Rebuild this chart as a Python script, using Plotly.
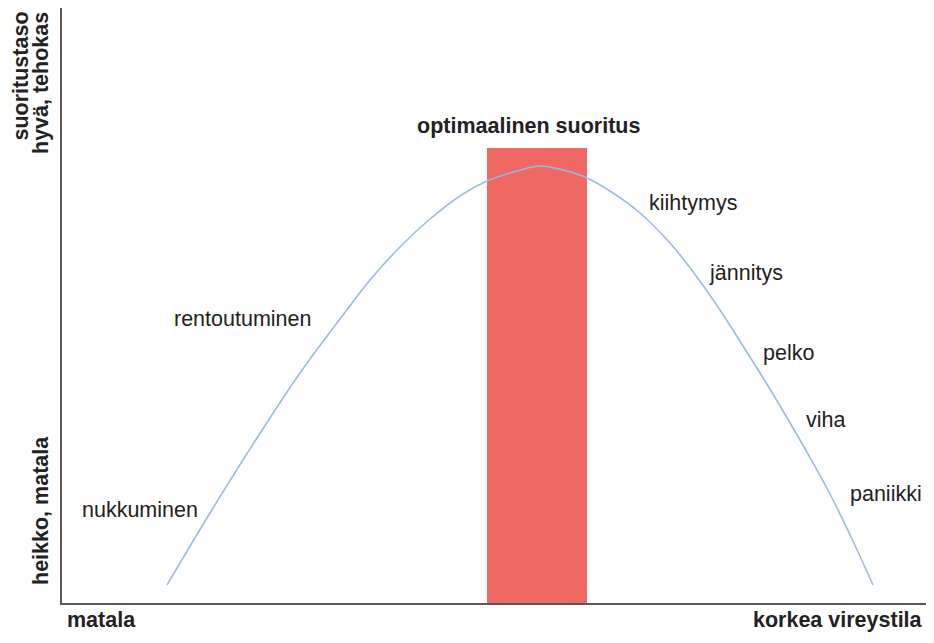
import plotly.graph_objects as go

# Curve (arousal vs. performance)
curve_x = [105, 148, 195, 238, 281, 308, 335, 368, 401, 425, 455, 478,
           501, 525, 551, 578, 608, 635, 658, 681, 703, 724, 746, 768, 790, 811]
curve_y = [18, 90, 165, 230, 288, 323, 353, 384, 409, 422, 432, 437,
           433, 425, 410, 390, 360, 326, 293, 257, 222, 187, 149, 109, 64, 18]

# Optimal performance band
band_center = [475]
band_width = [100]
band_height = [455]

# Labels along the curve
label_text = ["kiihtymys", "jännitys", "pelko", "viha", "paniikki", "rentoutuminen", "nukkuminen"]
label_x = [631, 684, 726, 763, 824, 180, 78]
label_y = [400, 330, 250, 183, 109, 284, 93]

FONT = "Liberation Sans, Arial, sans-serif"
TXT = "#222222"
FS = 21.5

XR = 864.0   # x data range (1 unit per pixel)
YR = 595.0   # y data range


def px(x):
    return x / XR


def py(y):
    return y / YR


fig = go.Figure()
fig.add_trace(go.Bar(x=band_center, y=band_height, width=band_width,
                     marker=dict(color="#EF6862", line=dict(width=0)),
                     hoverinfo="skip"))
fig.add_trace(go.Scatter(x=curve_x, y=curve_y, mode="lines",
                         line=dict(color="#9DB9E4", width=1.6, shape="spline", smoothing=1.0),
                         hoverinfo="skip"))

for t, x, y in zip(label_text, label_x, label_y):
    fig.add_annotation(x=x, y=y, text=t, showarrow=False,
                       font=dict(family=FONT, size=FS, color=TXT),
                       xanchor="center", yanchor="middle")

fig.add_annotation(x=466, y=477, text="<b>optimaalinen suoritus</b>", showarrow=False,
                   font=dict(family=FONT, size=FS, color=TXT), xanchor="center", yanchor="middle")
fig.add_annotation(xref="paper", yref="paper", x=px(39), y=py(-17), text="<b>matala</b>",
                   showarrow=False, font=dict(family=FONT, size=FS, color=TXT),
                   xanchor="center", yanchor="middle")
fig.add_annotation(xref="paper", yref="paper", x=px(776), y=py(-17), text="<b>korkea vireystila</b>",
                   showarrow=False, font=dict(family=FONT, size=FS, color=TXT),
                   xanchor="center", yanchor="middle")
fig.add_annotation(xref="paper", yref="paper", x=px(-42), y=py(593),
                   text="<b>suoritustaso</b>", showarrow=False, textangle=-90,
                   font=dict(family=FONT, size=FS, color=TXT), xanchor="center", yanchor="top")
fig.add_annotation(xref="paper", yref="paper", x=px(-21), y=py(593),
                   text="<b>hyvä, tehokas</b>", showarrow=False, textangle=-90,
                   font=dict(family=FONT, size=FS, color=TXT), xanchor="center", yanchor="top")
fig.add_annotation(xref="paper", yref="paper", x=px(-21), y=py(92),
                   text="<b>heikko, matala</b>", showarrow=False, textangle=-90,
                   font=dict(family=FONT, size=FS, color=TXT), xanchor="center", yanchor="middle")

fig.update_xaxes(range=[0, XR], showline=True, linecolor="#5a5a5a", linewidth=2,
                 showgrid=False, zeroline=False, showticklabels=False, ticks="")
fig.update_yaxes(range=[0, YR], showline=True, linecolor="#5a5a5a", linewidth=2,
                 showgrid=False, zeroline=False, showticklabels=False, ticks="")
fig.update_layout(width=918, height=627, margin=dict(l=54, r=0, t=0, b=32, autoexpand=False),
                  paper_bgcolor="white", plot_bgcolor="white", showlegend=False,
                  bargap=0)

fig.write_html("out.html")
